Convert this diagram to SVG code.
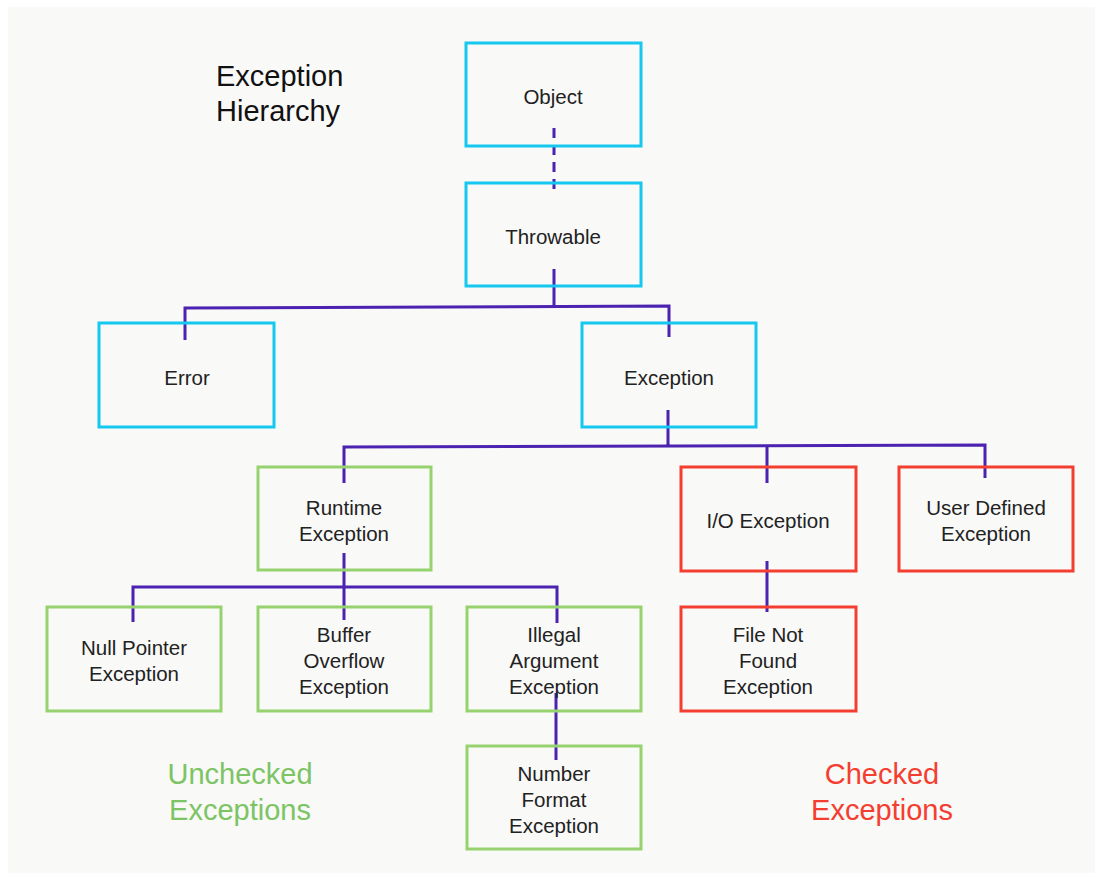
<svg xmlns="http://www.w3.org/2000/svg" width="1102" height="878" viewBox="0 0 1102 878">
<style>
.box{fill:none;stroke-width:3}
.blue{stroke:#14c8f0}
.green{stroke:#96d36f}
.red{stroke:#f43e30}
.lbl{font-family:"Liberation Sans",Arial,sans-serif;font-size:20.5px;fill:#222;text-anchor:middle}
.big{font-family:"Liberation Sans",Arial,sans-serif;font-size:29px;text-anchor:middle}
.conn{fill:none;stroke:#4b23b0;stroke-width:3}
</style>
<rect x="0" y="0" width="1102" height="878" fill="#ffffff"/>
<rect x="8" y="7" width="1087" height="866" fill="#f9f9f8"/>
<text class="big" x="216" y="86" fill="#111" text-anchor="start" style="text-anchor:start">Exception</text>
<text class="big" x="216" y="121" fill="#111" style="text-anchor:start">Hierarchy</text>
<text class="big" x="240" y="784" fill="#7cc464">Unchecked</text>
<text class="big" x="240" y="820" fill="#7cc464">Exceptions</text>
<text class="big" x="882" y="784" fill="#f43e30">Checked</text>
<text class="big" x="882" y="820" fill="#f43e30">Exceptions</text>
<g id="connectors">
<line class="conn" x1="554" y1="128" x2="554" y2="193" stroke-dasharray="10,7"/>
<path class="conn" d="M554 269 V307 M185 340 V308 L669 306 V337"/>
<path class="conn" d="M668 410 V446 M344 483 V447 L985 445 V478 M767 446 V483"/>
<path class="conn" d="M344 553 V587 M133 622 V587 H557 V623 M344 587 V620"/>
<path class="conn" d="M556 693 V760"/>
<path class="conn" d="M767 561 V612"/>
</g>
<g id="object"><rect class="box blue" x="466" y="43" width="175" height="103"/><text class="lbl" x="553" y="104">Object</text></g>
<g id="throwable"><rect class="box blue" x="466" y="183" width="175" height="103"/><text class="lbl" x="553" y="244">Throwable</text></g>
<g id="error"><rect class="box blue" x="99" y="323" width="175" height="104"/><text class="lbl" x="187" y="385">Error</text></g>
<g id="exception"><rect class="box blue" x="582" y="323" width="174" height="104"/><text class="lbl" x="669" y="385">Exception</text></g>
<g id="runtime"><rect class="box green" x="258" y="467" width="173" height="103"/><text class="lbl" x="344" y="515">Runtime</text><text class="lbl" x="344" y="541">Exception</text></g>
<g id="io"><rect class="box red" x="681" y="467" width="175" height="104"/><text class="lbl" x="768" y="528">I/O Exception</text></g>
<g id="userdefined"><rect class="box red" x="899" y="467" width="174" height="104"/><text class="lbl" x="986" y="515">User Defined</text><text class="lbl" x="986" y="541">Exception</text></g>
<g id="nullpointer"><rect class="box green" x="47" y="607" width="174" height="104"/><text class="lbl" x="134" y="655">Null Pointer</text><text class="lbl" x="134" y="681">Exception</text></g>
<g id="bufferoverflow"><rect class="box green" x="258" y="607" width="173" height="104"/><text class="lbl" x="344" y="642">Buffer</text><text class="lbl" x="344" y="668">Overflow</text><text class="lbl" x="344" y="694">Exception</text></g>
<g id="illegalargument"><rect class="box green" x="467" y="607" width="174" height="104"/><text class="lbl" x="554" y="642">Illegal</text><text class="lbl" x="554" y="668">Argument</text><text class="lbl" x="554" y="694">Exception</text></g>
<g id="filenotfound"><rect class="box red" x="681" y="607" width="175" height="104"/><text class="lbl" x="768" y="642">File Not</text><text class="lbl" x="768" y="668">Found</text><text class="lbl" x="768" y="694">Exception</text></g>
<g id="numberformat"><rect class="box green" x="467" y="746" width="174" height="103"/><text class="lbl" x="554" y="781">Number</text><text class="lbl" x="554" y="807">Format</text><text class="lbl" x="554" y="833">Exception</text></g>
</svg>
